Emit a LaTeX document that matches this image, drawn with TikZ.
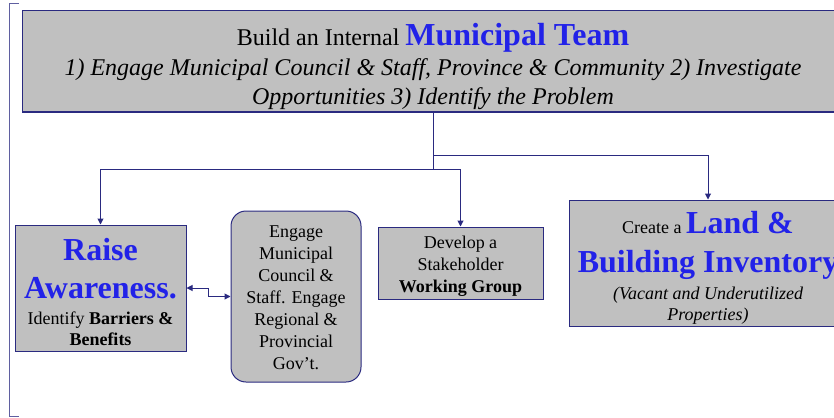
\documentclass[tikz,border=0pt]{standalone}
\usepackage{fontspec}
\setmainfont{Liberation Serif}
\usetikzlibrary{arrows.meta,positioning}
\definecolor{boxgray}{RGB}{192,192,192}
\definecolor{navy}{RGB}{42,42,128}
\definecolor{teamblue}{RGB}{34,34,232}
\newcommand{\bigblue}[1]{{\fontsize{32}{38}\selectfont\bfseries\color{teamblue}#1}}

\begin{document}
\begin{tikzpicture}[x=1pt, y=-1pt,
    stepbox/.style={draw=navy, fill=boxgray, line width=1pt},
    boxtext/.style={align=center, inner sep=0pt, font=\fontsize{18}{22}\selectfont},
    link/.style={draw=navy, line width=1pt, -{Triangle[length=6pt,width=6pt]}}]
    \useasboundingbox (0,0) rectangle (834,417);

    % bracket on the left
    \draw[navy!75, line width=0.9pt] (19,3) -- (9,3) -- (9,416) -- (19,416);

    \node[stepbox, minimum width=822pt, minimum height=101pt] (team) at (433,61.5) {};
    \node[boxtext, font=\fontsize{24}{29.5}\selectfont] (teamtext) at ([yshift=-5pt]team.center)
        {Build an Internal \bigblue{Municipal Team}\\
         {\itshape 1) Engage Municipal Council \& Staff, Province \& Community 2) Investigate}\\
         {\itshape Opportunities 3) Identify the Problem}};

    \node[stepbox, minimum width=171pt, minimum height=126pt] (raise) at (100.5,288) {};
    \node[boxtext] (raisetext) at ([yshift=-4pt]raise.center)
        {\bigblue{Raise}\\[16pt] \bigblue{Awareness.}\\[4.5pt] Identify \textbf{Barriers \&}\\[-1pt] \textbf{Benefits}};

    \node[stepbox, rounded corners=15pt, minimum width=130pt, minimum height=171pt] (engage) at (296,296.5) {};
    \node[boxtext] (engagetext) at ([yshift=-1pt]engage.center)
        {Engage\\ Municipal\\ Council \&\\ Staff. Engage\\ Regional \&\\ Provincial\\ Gov’t.};

    \node[stepbox, minimum width=165pt, minimum height=72pt] (stake) at (460.5,263) {};
    \node[boxtext] (staketext) at ([yshift=-3pt]stake.center)
        {Develop a\\ Stakeholder\\ \textbf{Working Group}};

    \node[stepbox, minimum width=278pt, minimum height=126pt] (land) at (708,263) {};
    \node[boxtext] (landtext) at ([yshift=-5pt]land.center)
        {Create a \bigblue{Land \&}\\[16pt] \bigblue{Building Inventory}\\[5pt] {\itshape(Vacant and Underutilized}\\[-1pt] {\itshape Properties)}};

    \coordinate (split) at (433,155);
    \coordinate (fork) at (433,169);
    \draw[link] (team.south) -- (split) -| (land.north);
    \draw[link] (split) -- (fork) -| (raise.north);
    \draw[link] (fork) -| (stake.north);
    \draw[link, {Triangle[length=6pt,width=6pt]}-{Triangle[length=6pt,width=6pt]}] (raise.east) -- ++(22,0) |- (engage.west);

\end{tikzpicture}
\end{document}
